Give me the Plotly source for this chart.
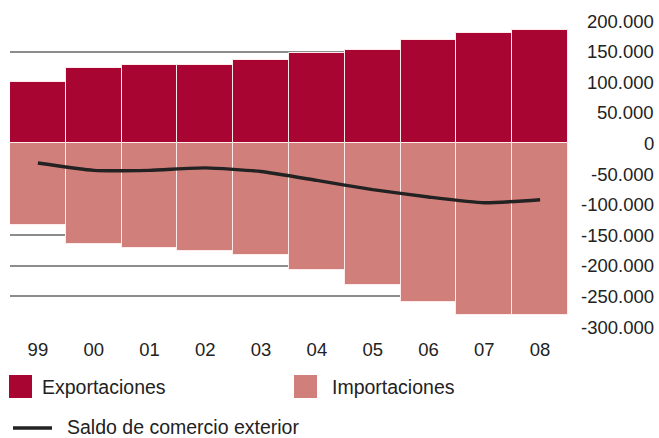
import plotly.graph_objects as go

years = ["99", "00", "01", "02", "03", "04", "05", "06", "07", "08"]
exportaciones = [101000, 123000, 128500, 128500, 137000, 147500, 153000, 169000, 180000, 186000]
importaciones = [-134000, -164500, -171000, -175000, -183000, -207500, -232000, -259000, -281000, -281000]
saldo = [-32000, -44000, -44000, -40000, -46000, -60500, -75500, -87500, -97000, -92000]

tick_vals = [200000, 150000, 100000, 50000, 0, -50000, -100000, -150000, -200000, -250000, -300000]
tick_text = ["200.000", "150.000", "100.000", "50.000", "0", "-50.000", "-100.000",
             "-150.000", "-200.000", "-250.000", "-300.000"]

W, H = 659, 438
L, R, T, B = 10, 91, 21, 111
RED = "#a80533"
PINK = "#d17f7b"
TXT = "#222222"
FONT = "Liberation Sans, Arial, sans-serif"

def px(x):
    return (x - L) / (W - L - R)

def py(y):
    return (H - B - y) / (H - T - B)

fig = go.Figure()
fig.add_trace(go.Bar(x=years, y=exportaciones, name="Exportaciones",
                     marker=dict(color=RED, line=dict(color="rgba(255,235,235,1)", width=1)),
                     showlegend=False))
fig.add_trace(go.Bar(x=years, y=importaciones, name="Importaciones",
                     marker=dict(color=PINK, line=dict(color="rgba(255,235,235,1)", width=1)),
                     showlegend=False))
fig.add_trace(go.Scatter(x=years, y=saldo, name="Saldo de comercio exterior", mode="lines",
                         line=dict(color="#222222", width=3.4, shape="spline", smoothing=0.5),
                         showlegend=False))

# manual legend
shapes = [
    dict(type="rect", xref="paper", yref="paper", x0=px(9), x1=px(32), y0=py(398), y1=py(375),
         fillcolor=RED, line=dict(width=0)),
    dict(type="rect", xref="paper", yref="paper", x0=px(294), x1=px(317), y0=py(398), y1=py(375),
         fillcolor=PINK, line=dict(width=0)),
    dict(type="line", xref="paper", yref="paper", x0=px(13), x1=px(52), y0=py(428), y1=py(428),
         line=dict(color="#222222", width=3.5)),
]
annotations = [
    dict(text="Exportaciones", xref="paper", yref="paper", x=px(40), y=py(387),
         xanchor="left", yanchor="middle", showarrow=False, font=dict(size=19.5, color=TXT, family=FONT)),
    dict(text="Importaciones", xref="paper", yref="paper", x=px(330), y=py(387),
         xanchor="left", yanchor="middle", showarrow=False, font=dict(size=19.5, color=TXT, family=FONT)),
    dict(text="Saldo de comercio exterior", xref="paper", yref="paper", x=px(65), y=py(427),
         xanchor="left", yanchor="middle", showarrow=False, font=dict(size=19.5, color=TXT, family=FONT)),
]
# right-aligned y tick labels placed through the y axis scale
for v, t in zip(tick_vals, tick_text):
    annotations.append(dict(text=t, xref="paper", yref="y", x=px(656), y=v,
                            xanchor="right", yanchor="middle", showarrow=False,
                            font=dict(size=18.5, color=TXT, family=FONT)))

fig.update_layout(
    width=W, height=H,
    margin=dict(l=L, r=R, t=T, b=B, autoexpand=False),
    paper_bgcolor="white", plot_bgcolor="white",
    barmode="relative", bargap=0,
    font=dict(family=FONT, size=18, color=TXT),
    xaxis=dict(showgrid=False, zeroline=False, showline=False, automargin=False,
               ticks="", tickfont=dict(size=18.5, color=TXT), ticklabelstandoff=9),
    yaxis=dict(range=[-300000, 200000], tickvals=tick_vals, showticklabels=False, automargin=False,
               showgrid=True, gridcolor="#8c8c8c", gridwidth=1.5, zeroline=False, showline=False, ticks=""),
    shapes=shapes, annotations=annotations,
)

fig.write_html("out.html", config={"displayModeBar": False},
               post_script="document.body.style.margin='0';document.body.style.overflow='hidden';")
